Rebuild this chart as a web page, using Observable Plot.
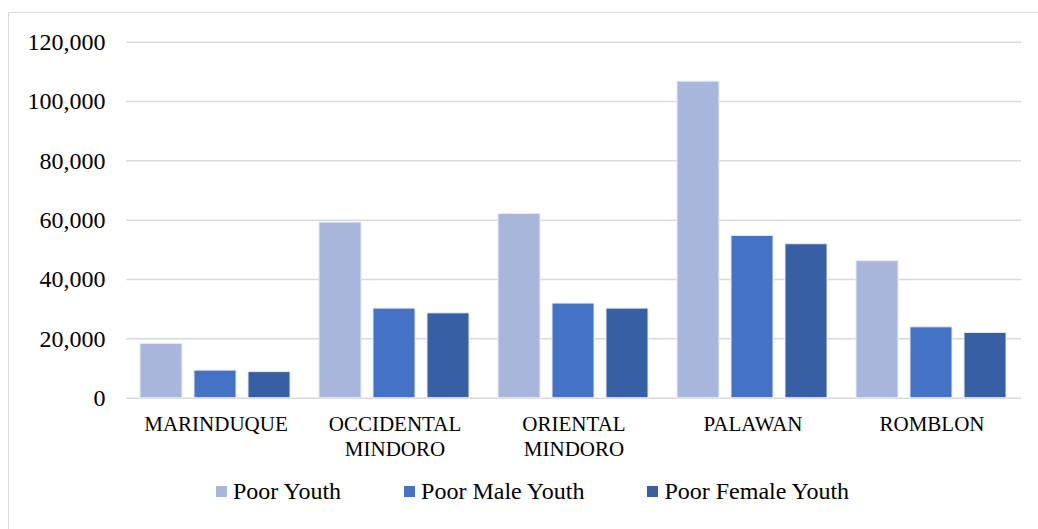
<!DOCTYPE html>
<html>
<head>
<meta charset="utf-8">
<script src="https://cdn.jsdelivr.net/npm/d3@7"></script>
<script src="https://cdn.jsdelivr.net/npm/@observablehq/plot@0.6"></script>
<style>
  html, body { margin: 0; padding: 0; background: #fff; width: 1038px; height: 529px; overflow: hidden; }
  #frame { position: absolute; left: 8px; top: 12px; width: 1100px; height: 600px;
           border-left: 1px solid #d9d9d9; border-top: 1px solid #d9d9d9; }
  #chart { position: absolute; left: 0; top: 0; }
  #legend { position: absolute; left: 216px; top: 479px; display: flex; gap: 63px;
            font-family: "Liberation Serif", "Times New Roman", serif; font-size: 24px;
            line-height: 24px; color: #000; white-space: nowrap; }
  .item { display: flex; align-items: center; }
  .sw { width: 11px; height: 11px; margin-right: 6px; }
</style>
</head>
<body>
<div id="frame"></div>
<div id="chart"></div>
<div id="legend"></div>
<script>
const categories = ["MARINDUQUE", "OCCIDENTAL\nMINDORO", "ORIENTAL\nMINDORO", "PALAWAN", "ROMBLON"];
const series = ["Poor Youth", "Poor Male Youth", "Poor Female Youth"];
const poorYouth = [18300, 59200, 62100, 106700, 46200];
const poorMaleYouth = [9300, 30200, 31900, 54700, 23900];
const poorFemaleYouth = [8800, 28600, 30200, 51900, 22000];
const colors = ["#A9B6DB", "#4472C4", "#365FA4"];
const yTicks = [0, 20000, 40000, 60000, 80000, 100000, 120000];

const valuesBySeries = [poorYouth, poorMaleYouth, poorFemaleYouth];
const data = [];
categories.forEach((c, i) => {
  series.forEach((s, j) => {
    data.push({ category: c, series: s, value: valuesBySeries[j][i] });
  });
});

const chart = Plot.plot({
  width: 1038,
  height: 465,
  marginLeft: 124,
  marginRight: 16,
  marginTop: 41.7,
  marginBottom: 67.3,
  style: { fontFamily: "'Liberation Serif', 'Times New Roman', serif", color: "#000", background: "transparent" },
  fx: { domain: categories, padding: 0, label: null, axis: null },
  x: { domain: series, paddingInner: 0.216, paddingOuter: 0.26, axis: null },
  y: { domain: [0, 120000], axis: null },
  color: { domain: series, range: colors },
  marks: [
    Plot.gridY(yTicks, { stroke: "#d9d9d9", strokeOpacity: 1, strokeWidth: 1.5 }),
    Plot.axisY(yTicks, { tickSize: 0, tickPadding: 21, tickFormat: d3.format(","), fontSize: 24, label: null }),
    Plot.axisFx({ anchor: "bottom", tickSize: 0, tickPadding: 15, fontSize: 21, lineHeight: 1.2, label: null }),
    Plot.barY(data, { fx: "category", x: "series", y: "value", fill: "series", stroke: "#e6ecf7", strokeWidth: 1 })
  ]
});
document.getElementById("chart").appendChild(chart);

const legend = document.getElementById("legend");
series.forEach((s, i) => {
  const item = document.createElement("div");
  item.className = "item";
  const sw = document.createElement("span");
  sw.className = "sw";
  sw.style.background = colors[i];
  const label = document.createElement("span");
  label.textContent = s;
  item.appendChild(sw);
  item.appendChild(label);
  legend.appendChild(item);
});
</script>
</body>
</html>
